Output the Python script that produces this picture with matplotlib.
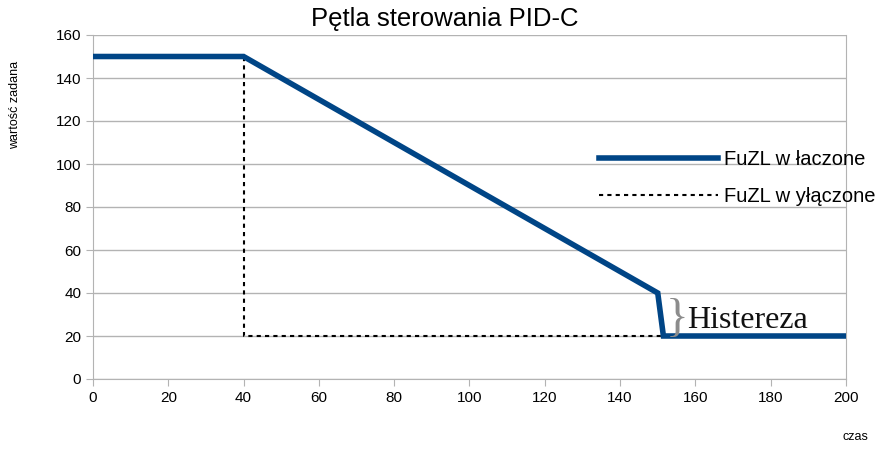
import matplotlib.pyplot as plt

# data
czas_on = [0, 40, 150, 151.5, 200]
wart_on = [150, 150, 40, 20, 20]
czas_off = [40, 40, 151.5]
wart_off = [150, 20, 20]
x_ticks = [0, 20, 40, 60, 80, 100, 120, 140, 160, 180, 200]
y_ticks = [0, 20, 40, 60, 80, 100, 120, 140, 160]

plt.rcParams['font.family'] = ['Liberation Sans', 'DejaVu Sans']

fig = plt.figure(figsize=(8.9, 4.7), dpi=100)
ax = fig.add_axes([93 / 890, 1 - 379 / 470, (846 - 93) / 890, (379 - 35) / 470])

ax.plot(czas_on, wart_on, color='#004586', lw=4, label='FuZL w łaczone',
        solid_joinstyle='miter', zorder=3)
ax.plot(czas_off, wart_off, color='black', lw=1.5, ls=(0, (2, 2)),
        label='FuZL w yłączone', zorder=2)

ax.set_xlim(0, 200)
ax.set_ylim(0, 160)
ax.set_xticks(x_ticks)
ax.set_yticks(y_ticks)
ax.grid(axis='y', color='#b3b3b3', lw=1)
ax.set_axisbelow(True)
for s in ax.spines.values():
    s.set_color('#b3b3b3')
ax.spines['top'].set_visible(False)
ax.tick_params(colors='#b3b3b3', labelcolor='black', labelsize=11, length=5)

fig.text(0.5, 1 - 19 / 470, 'Pętla sterowania PID-C', ha='center', va='center', fontsize=18.5)
fig.text(15 / 890, 1 - 105 / 470, 'wartość zadana', rotation=90, ha='center', va='center',
         fontsize=9)
fig.text(855 / 890, 1 - 437 / 470, 'czas', ha='center', va='center', fontsize=9)

# brace + label for hysteresis
ax.text(155.2, 27.5, '}', ha='center', va='center', fontsize=34,
        family='Liberation Serif', color='#8c8c8c')
ax.text(157.7, 27, 'Histereza', ha='left', va='center', fontsize=23,
        family='Liberation Serif', color='#111111')

leg = ax.legend(loc='center left', bbox_to_anchor=(581 / 890, 1 - 178 / 470),
                bbox_transform=fig.transFigure, frameon=False, fontsize=14.5,
                handlelength=5.9, handletextpad=0.3, labelspacing=0.85)

fig.savefig('out.png')
